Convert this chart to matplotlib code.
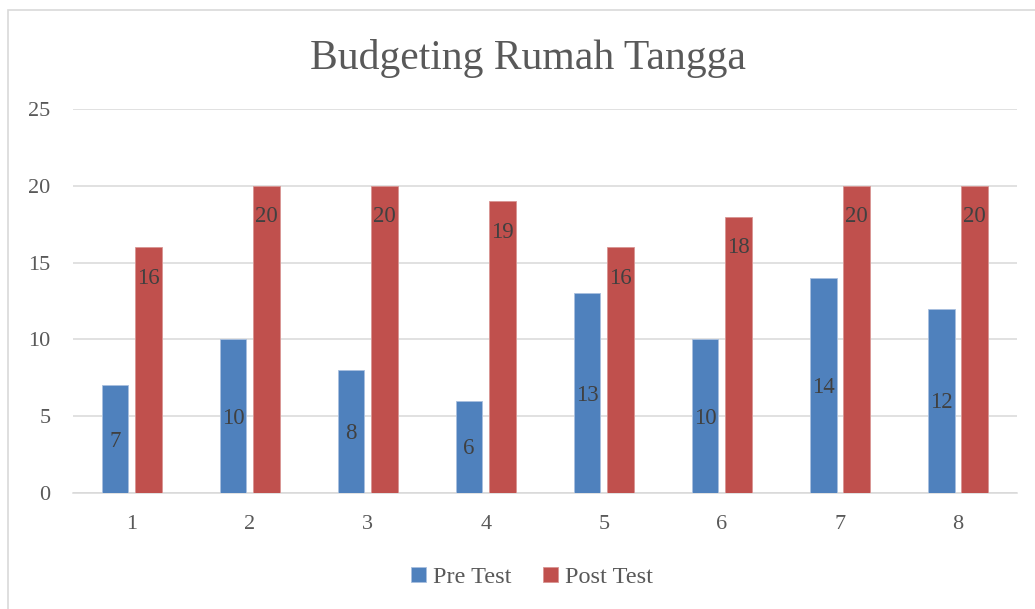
import numpy as np
import matplotlib.pyplot as plt
from matplotlib.patches import Rectangle

# data
categories = ['1', '2', '3', '4', '5', '6', '7', '8']
pre_test = [7, 10, 8, 6, 13, 10, 14, 12]
post_test = [16, 20, 20, 19, 16, 18, 20, 20]

blue = '#4F81BD'
red = '#C0504D'
plt.rcParams['font.family'] = ['Liberation Serif', 'DejaVu Serif']

fig = plt.figure(figsize=(10.35, 6.09), dpi=100)
ax = fig.add_axes([0.0702, 0.191, 0.9124, 0.6295])

x = np.arange(len(categories))
w = 0.224
off = 0.141
b1 = ax.bar(x - off, pre_test, w, color=blue, edgecolor='#a9c0df', linewidth=0.6, label='Pre Test', zorder=3)
b2 = ax.bar(x + off, post_test, w, color=red, edgecolor='#d99593', linewidth=0.6, label='Post Test', zorder=3)

# label kotak biru di tengah, merah dekat atas
for rect, v in zip(b1, pre_test):
    ax.annotate(str(v), (rect.get_x() + rect.get_width() / 2, v / 2), xytext=(0, -2),
                textcoords='offset pixels', ha='center', va='center',
                fontsize=16.5, color='#404040', zorder=4)
for rect, v in zip(b2, post_test):
    ax.annotate(str(v), (rect.get_x() + rect.get_width() / 2, v), xytext=(0, -31),
                textcoords='offset pixels', ha='center', va='center',
                fontsize=16.5, color='#404040', zorder=4)

ax.set_xlim(-0.5, 7.5)
ax.set_ylim(0, 25)
ax.set_yticks([0, 5, 10, 15, 20, 25])
ax.set_xticks(x)
ax.set_xticklabels(categories)
ax.grid(axis='y', color='#d9d9d9', linewidth=1.1, zorder=0)
for s in ['top', 'right', 'left']:
    ax.spines[s].set_visible(False)
ax.spines['bottom'].set_color('#d9d9d9')
ax.spines['bottom'].set_linewidth(1.1)
ax.tick_params(axis='both', length=0, labelsize=16, labelcolor='#595959')
ax.tick_params(axis='x', pad=16)
ax.tick_params(axis='y', pad=16)

fig.text(0.51, 0.904, 'Budgeting Rumah Tangga', ha='center', va='center',
         fontsize=30, color='#595959')

fig.legend(handles=[b1, b2], loc='center', bbox_to_anchor=(0.514, 0.052), ncol=2,
           frameon=False, fontsize=17.5, labelcolor='#595959', handlelength=0.6,
           handleheight=0.6, handletextpad=0.3, columnspacing=1.3)

# bingkai chart
fig.patches.append(Rectangle((8 / 1035, -0.1), 1.2, 1 - 10 / 609 + 0.1, transform=fig.transFigure,
                             fill=False, edgecolor='#d9d9d9', linewidth=1.2))

fig.savefig('out.png', dpi=100)
